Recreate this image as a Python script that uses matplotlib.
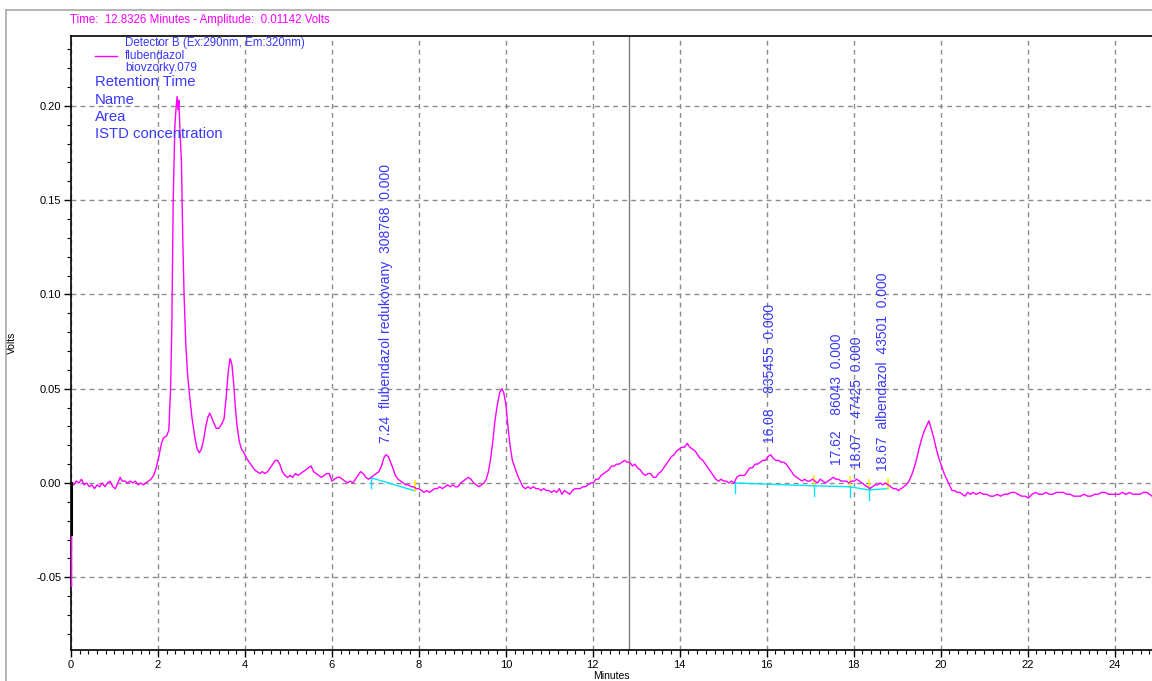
import matplotlib
matplotlib.use("Agg")
import matplotlib.pyplot as plt
import numpy as np
from matplotlib.ticker import MultipleLocator, FormatStrFormatter
from matplotlib.lines import Line2D

plt.rcParams['font.family'] = ['Liberation Sans', 'DejaVu Sans']

# detector B trace: (minutes, volts)
trace = [
    (0.00, 0.000), (0.01, -0.055), (0.02, 0.000), (0.06, -0.001), (0.12, 0.001), (0.18, 0.000),
    (0.24, 0.002), (0.30, -0.001), (0.36, 0.000), (0.42, -0.002), (0.48, -0.001), (0.54, -0.003),
    (0.60, -0.001), (0.66, -0.002), (0.72, 0.000), (0.78, -0.002), (0.84, 0.000), (0.90, 0.001),
    (0.96, -0.002), (1.02, -0.003), (1.08, 0.000), (1.13, 0.003), (1.18, 0.001), (1.24, 0.001),
    (1.30, 0.000), (1.36, 0.001), (1.42, 0.000), (1.48, 0.001), (1.54, -0.001), (1.60, 0.000),
    (1.66, -0.001), (1.72, 0.000), (1.78, 0.001), (1.84, 0.002), (1.90, 0.004), (1.96, 0.008),
    (2.02, 0.014), (2.08, 0.021), (2.13, 0.024), (2.20, 0.025), (2.25, 0.028), (2.29, 0.050),
    (2.32, 0.085), (2.35, 0.150), (2.39, 0.190), (2.42, 0.200), (2.44, 0.205), (2.46, 0.198),
    (2.48, 0.203), (2.51, 0.185), (2.54, 0.170), (2.57, 0.130), (2.60, 0.100), (2.64, 0.074),
    (2.68, 0.058), (2.72, 0.048), (2.78, 0.035), (2.85, 0.024), (2.90, 0.018), (2.95, 0.016),
    (3.00, 0.018), (3.05, 0.023), (3.10, 0.030), (3.15, 0.035), (3.19, 0.037), (3.23, 0.035),
    (3.28, 0.032), (3.34, 0.029), (3.40, 0.029), (3.46, 0.031), (3.52, 0.034), (3.57, 0.046),
    (3.62, 0.060), (3.66, 0.066), (3.70, 0.063), (3.74, 0.053), (3.78, 0.040), (3.82, 0.030),
    (3.87, 0.022), (3.92, 0.018), (3.98, 0.016), (4.04, 0.013), (4.10, 0.011), (4.16, 0.009),
    (4.22, 0.007), (4.28, 0.006), (4.34, 0.005), (4.40, 0.006), (4.46, 0.005), (4.52, 0.006),
    (4.58, 0.008), (4.64, 0.010), (4.70, 0.012), (4.75, 0.012), (4.80, 0.010), (4.86, 0.006),
    (4.92, 0.004), (4.98, 0.003), (5.04, 0.004), (5.10, 0.003), (5.16, 0.005), (5.22, 0.004),
    (5.28, 0.005), (5.34, 0.006), (5.40, 0.007), (5.46, 0.008), (5.52, 0.009), (5.58, 0.006),
    (5.64, 0.005), (5.70, 0.004), (5.76, 0.003), (5.82, 0.004), (5.88, 0.005), (5.94, 0.005),
    (6.00, 0.001), (6.06, 0.002), (6.12, 0.003), (6.18, 0.003), (6.24, 0.002), (6.30, 0.001),
    (6.36, 0.000), (6.42, 0.001), (6.48, 0.000), (6.54, 0.002), (6.60, 0.004), (6.66, 0.006),
    (6.72, 0.005), (6.78, 0.003), (6.84, 0.002), (6.90, 0.003), (6.96, 0.004), (7.02, 0.005),
    (7.08, 0.006), (7.14, 0.009), (7.19, 0.013), (7.24, 0.015), (7.30, 0.014), (7.35, 0.011),
    (7.40, 0.008), (7.46, 0.004), (7.52, 0.002), (7.58, 0.001), (7.64, 0.000), (7.70, -0.001),
    (7.76, -0.001), (7.82, -0.002), (7.88, -0.002), (7.94, -0.003), (8.00, -0.003), (8.06, -0.004),
    (8.12, -0.005), (8.18, -0.004), (8.24, -0.005), (8.30, -0.004), (8.36, -0.003), (8.42, -0.003),
    (8.48, -0.002), (8.54, -0.003), (8.60, -0.002), (8.66, -0.001), (8.72, -0.002), (8.78, -0.001),
    (8.84, -0.002), (8.90, -0.002), (8.96, 0.000), (9.02, 0.001), (9.08, 0.002), (9.14, 0.003),
    (9.20, 0.002), (9.26, 0.000), (9.32, -0.001), (9.38, -0.002), (9.44, -0.001), (9.50, 0.000),
    (9.55, 0.002), (9.60, 0.006), (9.65, 0.013), (9.70, 0.022), (9.75, 0.033), (9.80, 0.041),
    (9.86, 0.048), (9.91, 0.050), (9.95, 0.048), (10.00, 0.042), (10.04, 0.032), (10.09, 0.021),
    (10.15, 0.012), (10.21, 0.008), (10.27, 0.004), (10.33, 0.001), (10.39, -0.002), (10.45, -0.003),
    (10.51, -0.002), (10.57, -0.003), (10.63, -0.002), (10.69, -0.003), (10.75, -0.003), (10.81, -0.004),
    (10.87, -0.003), (10.93, -0.004), (10.99, -0.004), (11.05, -0.005), (11.11, -0.004), (11.17, -0.005),
    (11.23, -0.003), (11.29, -0.006), (11.35, -0.004), (11.41, -0.005), (11.47, -0.006), (11.53, -0.004),
    (11.59, -0.003), (11.65, -0.003), (11.71, -0.003), (11.77, -0.002), (11.83, -0.002), (11.89, -0.001),
    (11.95, 0.000), (12.01, 0.000), (12.07, 0.002), (12.13, 0.002), (12.19, 0.004), (12.25, 0.005),
    (12.31, 0.006), (12.37, 0.007), (12.43, 0.009), (12.49, 0.009), (12.55, 0.010), (12.61, 0.010),
    (12.67, 0.011), (12.73, 0.012), (12.79, 0.011), (12.85, 0.011), (12.91, 0.009), (12.97, 0.010),
    (13.03, 0.008), (13.09, 0.007), (13.15, 0.005), (13.21, 0.004), (13.27, 0.005), (13.33, 0.005),
    (13.39, 0.003), (13.45, 0.003), (13.51, 0.005), (13.57, 0.006), (13.63, 0.008), (13.69, 0.010),
    (13.75, 0.012), (13.81, 0.014), (13.87, 0.015), (13.93, 0.017), (13.99, 0.018), (14.05, 0.019),
    (14.11, 0.019), (14.17, 0.021), (14.23, 0.019), (14.29, 0.018), (14.35, 0.017), (14.41, 0.015),
    (14.47, 0.013), (14.53, 0.012), (14.59, 0.010), (14.65, 0.008), (14.71, 0.006), (14.77, 0.004),
    (14.83, 0.002), (14.89, 0.001), (14.95, 0.002), (15.01, 0.001), (15.07, 0.001), (15.13, 0.000),
    (15.19, 0.001), (15.25, 0.000), (15.31, 0.003), (15.37, 0.004), (15.43, 0.004), (15.49, 0.004),
    (15.55, 0.006), (15.61, 0.008), (15.67, 0.008), (15.73, 0.010), (15.79, 0.010), (15.85, 0.011),
    (15.91, 0.012), (15.97, 0.012), (16.03, 0.014), (16.09, 0.015), (16.15, 0.013), (16.21, 0.012),
    (16.27, 0.012), (16.33, 0.011), (16.39, 0.011), (16.45, 0.010), (16.51, 0.008), (16.57, 0.006),
    (16.63, 0.004), (16.69, 0.003), (16.75, 0.002), (16.81, 0.001), (16.87, 0.002), (16.93, 0.001),
    (16.99, 0.001), (17.05, 0.002), (17.11, 0.001), (17.17, 0.000), (17.23, 0.002), (17.29, 0.001),
    (17.35, 0.000), (17.41, 0.001), (17.47, 0.002), (17.53, 0.003), (17.59, 0.002), (17.65, 0.002),
    (17.71, 0.001), (17.77, 0.001), (17.83, 0.001), (17.89, 0.000), (17.95, 0.001), (18.01, 0.001),
    (18.07, 0.002), (18.13, 0.001), (18.19, 0.000), (18.25, -0.001), (18.31, -0.002), (18.37, -0.003),
    (18.43, -0.002), (18.49, -0.001), (18.55, -0.001), (18.61, 0.000), (18.67, -0.001), (18.73, 0.000),
    (18.79, -0.001), (18.85, -0.002), (18.91, -0.003), (18.97, -0.003), (19.03, -0.004), (19.09, -0.003),
    (19.15, -0.002), (19.21, -0.001), (19.27, 0.001), (19.33, 0.004), (19.39, 0.008), (19.45, 0.013),
    (19.51, 0.019), (19.57, 0.024), (19.63, 0.028), (19.69, 0.031), (19.73, 0.033), (19.78, 0.029),
    (19.84, 0.024), (19.90, 0.018), (19.96, 0.013), (20.02, 0.009), (20.08, 0.005), (20.14, 0.002),
    (20.20, -0.001), (20.26, -0.004), (20.32, -0.004), (20.38, -0.005), (20.44, -0.005), (20.50, -0.006),
    (20.56, -0.007), (20.62, -0.005), (20.68, -0.006), (20.74, -0.005), (20.82, -0.006), (20.90, -0.005),
    (20.98, -0.006), (21.06, -0.006), (21.14, -0.007), (21.22, -0.007), (21.30, -0.006), (21.38, -0.007),
    (21.46, -0.006), (21.54, -0.006), (21.62, -0.005), (21.70, -0.005), (21.78, -0.006), (21.86, -0.007),
    (21.94, -0.007), (22.02, -0.008), (22.10, -0.006), (22.18, -0.005), (22.26, -0.006), (22.34, -0.006),
    (22.42, -0.005), (22.50, -0.006), (22.58, -0.006), (22.66, -0.005), (22.74, -0.005), (22.82, -0.005),
    (22.90, -0.006), (22.98, -0.006), (23.06, -0.007), (23.14, -0.007), (23.22, -0.007), (23.30, -0.006),
    (23.38, -0.007), (23.46, -0.007), (23.54, -0.006), (23.62, -0.006), (23.70, -0.005), (23.78, -0.005),
    (23.86, -0.006), (23.94, -0.006), (24.02, -0.006), (24.10, -0.006), (24.18, -0.005), (24.26, -0.006),
    (24.34, -0.005), (24.42, -0.006), (24.50, -0.006), (24.58, -0.006), (24.66, -0.005), (24.74, -0.005),
    (24.80, -0.006), (24.86, -0.007),
]
rt_min = np.array([p[0] for p in trace])
signal_v = np.array([p[1] for p in trace])

# injection marker at t=0
inject_y = [0.0, -0.027]

# integrated peaks
peak_rt = [7.24, 16.08, 17.62, 18.07, 18.67]
peak_name = ['flubendazol redukovany', '', '', '', 'albendazol']
peak_area = [308768, 835455, 86043, 47425, 43501]
peak_conc = [0.000, 0.000, 0.000, 0.000, 0.000]
peak_label_y = [0.021, 0.021, 0.0095, 0.008, 0.0064]

# baselines drawn under the peaks: (start t, start v, end t, end v)
base_start_t = [6.91, 15.26, 17.08, 17.91, 18.35]
base_start_v = [0.0027, 0.0, -0.0015, -0.0020, -0.0037]
base_end_t = [7.91, 17.08, 17.91, 18.35, 18.79]
base_end_v = [-0.0042, -0.0015, -0.0020, -0.0037, -0.0030]

cursor_t = 12.8326
cursor_amp = 0.01142

W, H = 1152, 681
fig = plt.figure(figsize=(W / 100, H / 100), dpi=100)
ax = fig.add_axes([71 / W, 1 - 650 / H, 1 - 71 / W, (650 - 36) / H])

magenta = '#ff00ff'
blue = '#3838ff'

ax.plot(rt_min, signal_v, color=magenta, lw=1.0, zorder=3)
ax.plot([0, 0], inject_y, color='black', lw=2.2, zorder=4)

# baselines + start/end ticks
tick = 0.0052
for t0, v0, t1, v1 in zip(base_start_t, base_start_v, base_end_t, base_end_v):
    ax.plot([t0, t1], [v0, v1], color='#00e5ff', lw=1.0, zorder=2)
    ax.plot([t0, t0], [v0, v0 - tick], color='#00e5ff', lw=1.0, zorder=2)
    ax.plot([t1, t1], [v1, v1 + tick], color='#ffee00', lw=1.2, zorder=2)

for rt, name, area, conc, ly in zip(peak_rt, peak_name, peak_area, peak_conc, peak_label_y):
    label = f"{rt:.2f}  {name}  {area}  {conc:.3f}"
    ax.text(rt, ly, label, rotation=90, ha='center', va='bottom',
            color=blue, fontsize=10, zorder=5)

ax.axvline(cursor_t, color='#808080', lw=1.0, zorder=1)

ax.set_xlim(0, 24.86)
ax.set_ylim(-0.0886, 0.2371)
ax.xaxis.set_major_locator(MultipleLocator(2))
ax.xaxis.set_minor_locator(MultipleLocator(0.2))
ax.yaxis.set_major_locator(MultipleLocator(0.05))
ax.yaxis.set_minor_locator(MultipleLocator(0.01))
ax.yaxis.set_major_formatter(FormatStrFormatter('%.2f'))
ax.tick_params(axis='both', which='major', labelsize=8, length=5, width=1, direction='out', pad=2)
ax.tick_params(axis='both', which='minor', length=3, width=0.8, direction='out')
ax.grid(True, which='major', color='#8a8a8a', ls=(0, (3.5, 3)), lw=1.0)
ax.set_axisbelow(True)
ax.spines['right'].set_visible(False)
for s in ['left', 'bottom', 'top']:
    ax.spines[s].set_linewidth(1.2)

ax.set_xlabel('Minutes', fontsize=7.5, labelpad=1)
ax.set_ylabel('Volts', fontsize=7.5, labelpad=14)


def fx(px):
    return px / W


def fy(py):
    return 1 - py / H


# window frame
fig.add_artist(Line2D([fx(6), fx(6)], [0, fy(10)], color='#a8a8a8', lw=1.2))
fig.add_artist(Line2D([fx(6), 1], [fy(10), fy(10)], color='#a8a8a8', lw=1.2))

fig.text(fx(70), fy(20), f"Time:  {cursor_t:.4f} Minutes - Amplitude:  {cursor_amp:.5f} Volts",
         color=magenta, fontsize=8.3, va='center', ha='left')

# legend block
fig.text(fx(125), fy(43), 'Detector B (Ex:290nm, Em:320nm)', color=blue, fontsize=8.3, va='center')
fig.add_artist(Line2D([fx(95), fx(117)], [fy(56), fy(56)], color=magenta, lw=1.0))
fig.text(fx(125), fy(56), 'flubendazol', color=blue, fontsize=8.5, va='center')
fig.text(fx(125), fy(68), 'biovzorky.079', color=blue, fontsize=8.5, va='center')
for i, txt in enumerate(['Retention Time', 'Name', 'Area', 'ISTD concentration']):
    fig.text(fx(95), fy(82 + i * 17.5), txt, color=blue, fontsize=10.7, va='center')

fig.savefig('out.png', dpi=100)
